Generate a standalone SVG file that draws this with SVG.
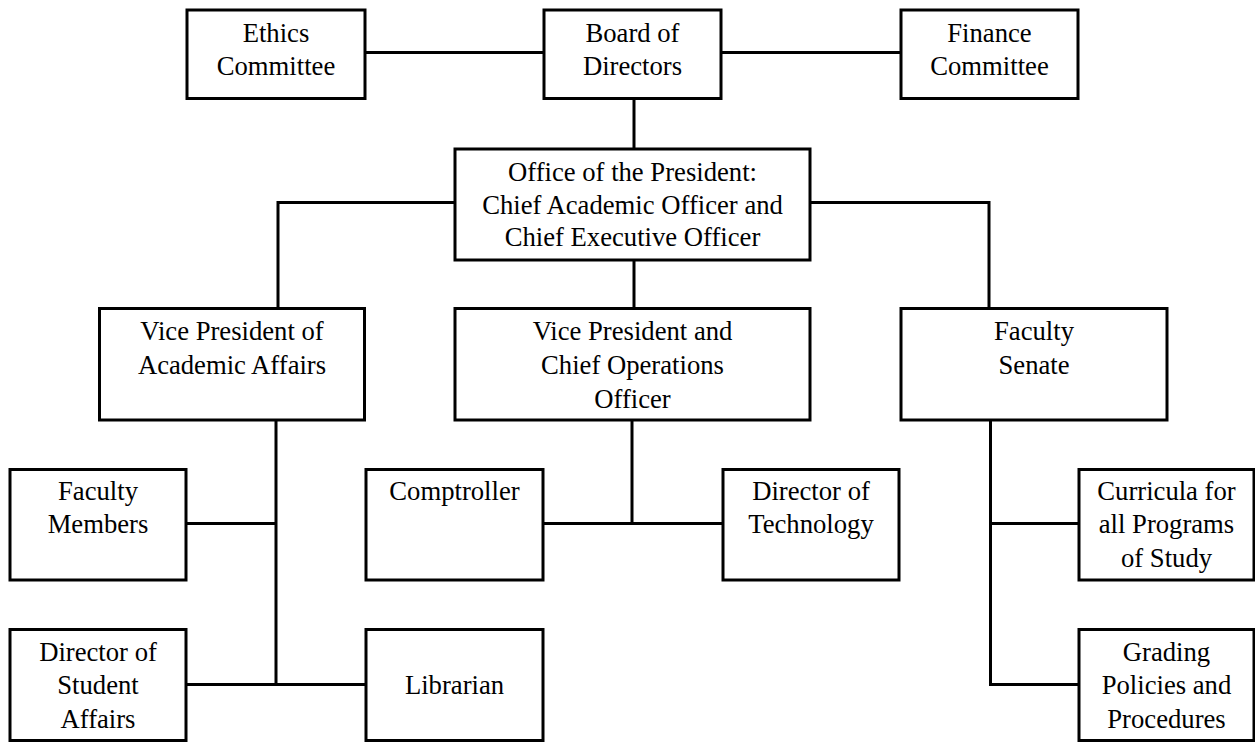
<svg xmlns="http://www.w3.org/2000/svg" width="1255" height="742" viewBox="0 0 1255 742">
<style>
.box{fill:#fff;stroke:#000;stroke-width:3}
.con{fill:none;stroke:#000;stroke-width:3}
text{font-family:'Liberation Serif','Times New Roman',serif;font-size:26.67px;fill:#000;text-anchor:middle}
</style>
<rect x="0" y="0" width="1255" height="742" fill="#fff"/>
<g id="connectors">
<line class="con" x1="365" y1="52.5" x2="544" y2="52.5"/>
<line class="con" x1="721" y1="52.5" x2="901" y2="52.5"/>
<line class="con" x1="634" y1="98.5" x2="634" y2="149"/>
<polyline class="con" points="455,202.5 278,202.5 278,308.5"/>
<polyline class="con" points="810,202.5 989,202.5 989,308.5"/>
<line class="con" x1="634" y1="260" x2="634" y2="308.5"/>
<line class="con" x1="632" y1="420" x2="632" y2="523.5"/>
<line class="con" x1="543" y1="523.5" x2="723" y2="523.5"/>
<line class="con" x1="276" y1="420" x2="276" y2="684.5"/>
<line class="con" x1="186" y1="523.5" x2="276" y2="523.5"/>
<line class="con" x1="186" y1="684.5" x2="366" y2="684.5"/>
<polyline class="con" points="990.5,420 990.5,684.5 1079,684.5"/>
<line class="con" x1="990.5" y1="523.5" x2="1079" y2="523.5"/>
</g>
<g id="ethics"><rect class="box" x="187" y="10" width="178" height="88.5"/><text x="276" y="41.5">Ethics</text><text x="276" y="75">Committee</text></g>
<g id="board"><rect class="box" x="544" y="10" width="177" height="88.5"/><text x="632.5" y="41.5">Board of</text><text x="632.5" y="75">Directors</text></g>
<g id="finance"><rect class="box" x="901" y="10" width="177" height="88.5"/><text x="989.5" y="41.5">Finance</text><text x="989.5" y="75">Committee</text></g>
<g id="president"><rect class="box" x="455" y="149" width="355" height="111"/><text x="632.5" y="181">Office of the President:</text><text x="632.5" y="213.5">Chief Academic Officer and</text><text x="632.5" y="246">Chief Executive Officer</text></g>
<g id="vp-academic"><rect class="box" x="99.5" y="308.5" width="265" height="111.5"/><text x="232" y="340">Vice President of</text><text x="232" y="373.5">Academic Affairs</text></g>
<g id="vp-operations"><rect class="box" x="455" y="308.5" width="355" height="111.5"/><text x="632.5" y="340">Vice President and</text><text x="632.5" y="374">Chief Operations</text><text x="632.5" y="407.5">Officer</text></g>
<g id="faculty-senate"><rect class="box" x="901" y="308.5" width="266" height="111.5"/><text x="1034" y="340">Faculty</text><text x="1034" y="373.5">Senate</text></g>
<g id="faculty-members"><rect class="box" x="10" y="469.5" width="176" height="110.5"/><text x="98" y="500">Faculty</text><text x="98" y="533.3">Members</text></g>
<g id="comptroller"><rect class="box" x="366" y="469.5" width="177" height="110.5"/><text x="454.5" y="500">Comptroller</text></g>
<g id="director-technology"><rect class="box" x="723" y="469.5" width="176" height="110.5"/><text x="811" y="500">Director of</text><text x="811" y="533.3">Technology</text></g>
<g id="curricula"><rect class="box" x="1079" y="469.5" width="175" height="110.5"/><text x="1166.5" y="500">Curricula for</text><text x="1166.5" y="533.3">all Programs</text><text x="1166.5" y="566.7">of Study</text></g>
<g id="director-student-affairs"><rect class="box" x="10" y="629.5" width="176" height="111"/><text x="98" y="660.5">Director of</text><text x="98" y="694">Student</text><text x="98" y="727.5">Affairs</text></g>
<g id="librarian"><rect class="box" x="366" y="629.5" width="177" height="111"/><text x="454.5" y="694">Librarian</text></g>
<g id="grading"><rect class="box" x="1079" y="629.5" width="175" height="111"/><text x="1166.5" y="660.7">Grading</text><text x="1166.5" y="694.3">Policies and</text><text x="1166.5" y="727.7">Procedures</text></g>
</svg>
